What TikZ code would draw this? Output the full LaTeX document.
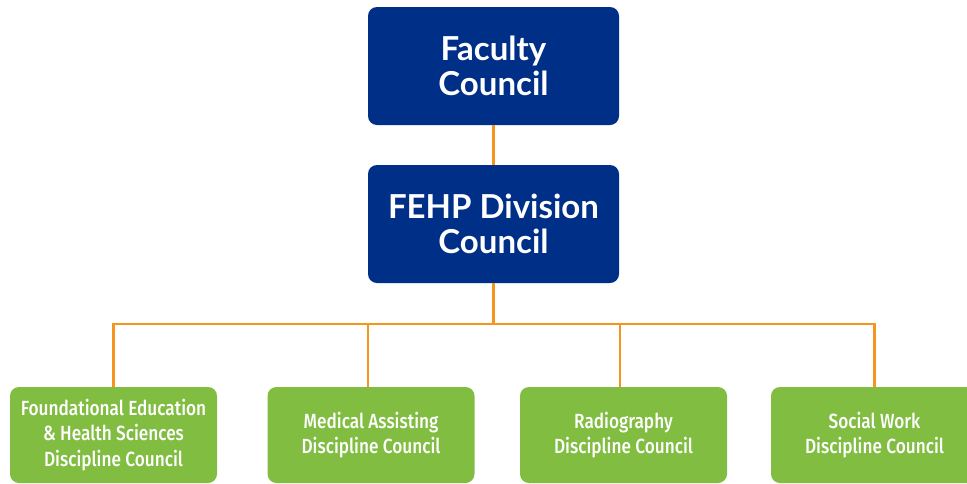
\documentclass[tikz,border=0pt]{standalone}
\usepackage{fontspec}
\setmainfont{Lato}
\newfontfamily\topfont{Lato}[UprightFont=* Bold]
\newfontfamily\grfont{Fira Sans}[UprightFont=* Medium, FakeStretch=0.84]
\definecolor{navy}{HTML}{002F87}
\definecolor{leaf}{HTML}{80BD41}
\definecolor{amber}{HTML}{F7941D}
\begin{document}
\begin{tikzpicture}[x=1pt,y=-1pt,
  topbox/.style={fill=navy, rounded corners=9pt, minimum width=251pt, minimum height=118pt,
    text=white, align=center, inner sep=0pt, font=\topfont\fontsize{33}{35}\selectfont},
  grbox/.style={fill=leaf, rounded corners=9pt, minimum width=207pt, minimum height=96pt,
    text=white, align=center, inner sep=0pt, font=\grfont\fontsize{20.5}{25.5}\selectfont},
  link/.style={draw=amber, line width=2.4pt}]
\useasboundingbox (0,0) rectangle (967,483);
\fill[white] (0,0) rectangle (967,483);
\node[topbox] (fc) at (493.5,66) {Faculty\\Council};
\node[topbox] (div) at (493.5,224) {FEHP Division\\Council};
\node[grbox] (g1) at (113.5,435) {Foundational Education\\\& Health Sciences\\Discipline Council};
\node[grbox] (g2) at (371,435) {Medical Assisting\\Discipline Council};
\node[grbox] (g3) at (623.5,435) {Radiography\\Discipline Council};
\node[grbox] (g4) at (874.5,435) {Social Work\\Discipline Council};
\coordinate (bus) at (493.5,324);
\coordinate (d2) at (368,387);
\coordinate (d3) at (620,387);
\draw[link] (fc.south) -- (div.north);
\draw[link] (div.south) -- (bus);
\draw[link] (g1.north) |- (bus);
\draw[link] (g4.north) |- (bus);
\draw[link] (d2) -- (d2 |- bus);
\draw[link] (d3) -- (d3 |- bus);
\end{tikzpicture}
\end{document}
